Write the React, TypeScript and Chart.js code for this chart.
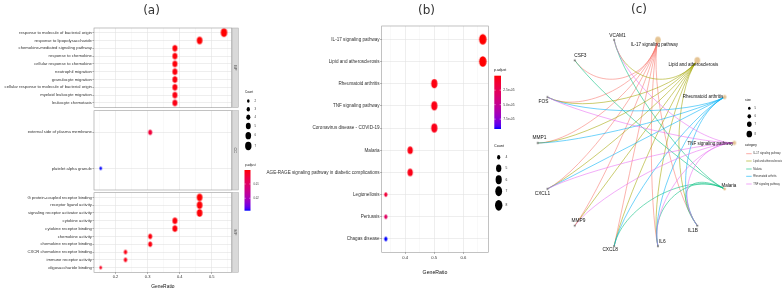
import React, { useEffect, useRef } from "react";
import { Chart, registerables } from "chart.js";
Chart.register(...registerables);

const W = 784;
const H = 290;
const FONT = "'Liberation Sans', Arial, sans-serif";

// ---------------- (a) GO enrichment ----------------
const bpTerms = [
  "response to molecule of bacterial origin",
  "response to lipopolysaccharide",
  "chemokine-mediated signaling pathway",
  "response to chemokine",
  "cellular response to chemokine",
  "neutrophil migration",
  "granulocyte migration",
  "cellular response to molecule of bacterial origin",
  "myeloid leukocyte migration",
  "leukocyte chemotaxis",
];
const bpGeneRatio = [0.538, 0.462, 0.385, 0.385, 0.385, 0.385, 0.385, 0.385, 0.385, 0.385];
const bpCount = [7, 6, 5, 5, 5, 5, 5, 5, 5, 5];
const bpPAdjust = [0.0002, 0.0004, 0.0006, 0.0006, 0.0006, 0.0008, 0.0008, 0.0009, 0.0011, 0.0013];

const ccTerms = ["external side of plasma membrane", "platelet alpha granule"];
const ccGeneRatio = [0.308, 0.154];
const ccCount = [4, 2];
const ccPAdjust = [0.0048, 0.0287];

const mfTerms = [
  "G protein-coupled receptor binding",
  "receptor ligand activity",
  "signaling receptor activator activity",
  "cytokine activity",
  "cytokine receptor binding",
  "chemokine activity",
  "chemokine receptor binding",
  "CXCR chemokine receptor binding",
  "immune receptor activity",
  "oligosaccharide binding",
];
const mfGeneRatio = [0.462, 0.462, 0.462, 0.385, 0.385, 0.308, 0.308, 0.231, 0.231, 0.154];
const mfCount = [6, 6, 6, 5, 5, 4, 4, 3, 3, 2];
const mfPAdjust = [0.0003, 0.0005, 0.0005, 0.0007, 0.0007, 0.0009, 0.001, 0.0012, 0.0014, 0.0021];

const aXMajor = [0.2, 0.3, 0.4, 0.5];
const aXMinor = [0.15, 0.25, 0.35, 0.45, 0.55];
const aCountLegend = [2, 3, 4, 5, 6, 7];
const aPAdjustLegend = [0.01, 0.02];
const aPAdjustLegendLabels = ["0.01", "0.02"];

// ---------------- (b) KEGG enrichment ----------------
const keggTerms = [
  "IL-17 signaling pathway",
  "Lipid and atherosclerosis",
  "Rheumatoid arthritis",
  "TNF signaling pathway",
  "Coronavirus disease - COVID-19",
  "Malaria",
  "AGE-RAGE signaling pathway in diabetic complications",
  "Legionellosis",
  "Pertussis",
  "Chagas disease",
];
const keggGeneRatio = [0.667, 0.667, 0.5, 0.5, 0.5, 0.417, 0.417, 0.333, 0.333, 0.333];
const keggCount = [8, 8, 6, 6, 6, 5, 5, 4, 4, 4];
const keggPAdjust = [1e-7, 2e-7, 2.5e-6, 3.5e-6, 4.5e-6, 3e-6, 4e-6, 1.4e-5, 3e-5, 9.2e-5];
const bXMajor = [0.4, 0.5, 0.6];
const bXMinor = [0.35, 0.45, 0.55, 0.65];
const bCountLegend = [4, 5, 6, 7, 8];
const bPAdjustLegend = [2.5e-5, 5.0e-5, 7.5e-5];
const bPAdjustLegendLabels = ["2.5e-05", "5.0e-05", "7.5e-05"];

// ---------------- (c) gene-concept network ----------------
const cNodeOrder = [
  "TNF signaling pathway",
  "Rheumatoid arthritis",
  "Lipid and atherosclerosis",
  "IL-17 signaling pathway",
  "VCAM1",
  "CSF3",
  "FOS",
  "MMP1",
  "CXCL1",
  "MMP9",
  "CXCL8",
  "IL6",
  "IL1B",
  "Malaria",
];
const cCategories = [
  "IL-17 signaling pathway",
  "Lipid and atherosclerosis",
  "Malaria",
  "Rheumatoid arthritis",
  "TNF signaling pathway",
];
const il17Genes = ["CSF3", "FOS", "MMP1", "CXCL1", "MMP9", "CXCL8", "IL6", "IL1B"];
const lipidGenes = ["VCAM1", "FOS", "MMP1", "CXCL1", "MMP9", "CXCL8", "IL6", "IL1B"];
const malariaGenes = ["VCAM1", "CSF3", "CXCL8", "IL6", "IL1B"];
const raGenes = ["FOS", "MMP1", "CXCL1", "CXCL8", "IL6", "IL1B"];
const tnfGenes = ["VCAM1", "FOS", "CXCL1", "MMP9", "IL6", "IL1B"];
const cSizeLegend = [5, 6, 7, 8];

// ---------------- styles ----------------
const catColors = ["#F8766D", "#A3A500", "#00BF7D", "#00B0F6", "#E76BF3"];
const cLabelNudge: [number, number][] = [
  [-24, 0.6], [-21.6, 0], [-4, 4.7], [-3.4, 5.3], [3.4, -4], [5.7, -5], [-4, 4.4],
  [1.7, -5], [-5, 4.4], [3.7, -5.4], [-4, 3.6], [4.4, -5], [-4.4, 5.4], [4.3, -2.7],
];
const AXIS_TEXT = "#333333";

// ---------------- colour helpers (CIELAB ramp red -> blue) ----------------
function toLin(c: number) {
  c /= 255;
  return c <= 0.04045 ? c / 12.92 : Math.pow((c + 0.055) / 1.055, 2.4);
}
function fromLin(c: number) {
  const v = c <= 0.0031308 ? 12.92 * c : 1.055 * Math.pow(c, 1 / 2.4) - 0.055;
  return Math.round(Math.max(0, Math.min(1, v)) * 255);
}
function rgb2lab(rgb: number[]) {
  const R = toLin(rgb[0]), G = toLin(rgb[1]), B = toLin(rgb[2]);
  const X = (0.4124 * R + 0.3576 * G + 0.1805 * B) / 0.95047;
  const Y = 0.2126 * R + 0.7152 * G + 0.0722 * B;
  const Z = (0.0193 * R + 0.1192 * G + 0.9505 * B) / 1.08883;
  const f = (t: number) => (t > 0.008856 ? Math.cbrt(t) : 7.787 * t + 16 / 116);
  return [116 * f(Y) - 16, 500 * (f(X) - f(Y)), 200 * (f(Y) - f(Z))];
}
function lab2rgb(lab: number[]) {
  const fy = (lab[0] + 16) / 116;
  const fx = fy + lab[1] / 500;
  const fz = fy - lab[2] / 200;
  const inv = (t: number) => (t * t * t > 0.008856 ? t * t * t : (t - 16 / 116) / 7.787);
  const X = inv(fx) * 0.95047, Y = inv(fy), Z = inv(fz) * 1.08883;
  const R = 3.2406 * X - 1.5372 * Y - 0.4986 * Z;
  const G = -0.9689 * X + 1.8758 * Y + 0.0415 * Z;
  const B = 0.0557 * X - 0.204 * Y + 1.057 * Z;
  return [fromLin(R), fromLin(G), fromLin(B)];
}
const LAB_LOW = rgb2lab([255, 0, 0]);
const LAB_HIGH = rgb2lab([0, 0, 255]);
function ramp(t: number) {
  const u = Math.max(0, Math.min(1, t));
  const lab = LAB_LOW.map((v, i) => v + (LAB_HIGH[i] - v) * u);
  const c = lab2rgb(lab);
  return `rgb(${c[0]},${c[1]},${c[2]})`;
}

function ellipseCanvas(rx: number, ry: number, color: string) {
  const w = Math.ceil(rx * 2) + 2;
  const h = Math.ceil(ry * 2) + 2;
  const c = document.createElement("canvas");
  c.width = w;
  c.height = h;
  const g = c.getContext("2d")!;
  g.fillStyle = color;
  g.beginPath();
  g.ellipse(w / 2, h / 2, rx, ry, 0, 0, Math.PI * 2);
  g.fill();
  return c;
}

function txt(ctx: CanvasRenderingContext2D, s: string, x: number, y: number, size: number, color = "#111", align: CanvasTextAlign = "left") {
  ctx.save();
  ctx.font = `${size}px ${FONT}`;
  ctx.fillStyle = color;
  ctx.textAlign = align;
  ctx.textBaseline = "middle";
  ctx.fillText(s, x, y);
  ctx.restore();
}

// size mappings
const aRx = (c: number) => 1.3 + 0.38 * (c - 2);
const aRy = (c: number) => aRx(c) * 1.3;
const bRx = (c: number) => 1.6 + 2.1 * Math.sqrt((c - 4) / 4);
const bRy = (c: number) => bRx(c) * 1.45;
const cRx = (c: number) => 1.3 + 0.5 * (c - 5);
const cRy = (c: number) => cRx(c) * 1.2;

const aAll = [...bpPAdjust, ...ccPAdjust, ...mfPAdjust];
const aPMin = Math.min(...aAll);
const aPMax = Math.max(...aAll);
const aColor = (p: number) => ramp((p - aPMin) / (aPMax - aPMin));
const bPMin = Math.min(...keggPAdjust);
const bPMax = Math.max(...keggPAdjust);
const bColor = (p: number) => ramp((p - bPMin) / (bPMax - bPMin));

type Area = { l: number; t: number; r: number; b: number };
interface DotSpec {
  terms: string[];
  ratio: number[];
  count: number[];
  padj: number[];
  area: Area;
  xMin: number;
  xMax: number;
  xMajor: number[];
  xMinor: number[];
  showX: boolean;
  labelFont: number;
  tickFont: number;
  titleFont: number;
  titlePadBottom: number;
  xTickPad: number;
  rx: (c: number) => number;
  ry: (c: number) => number;
  color: (p: number) => string;
  strip?: string;
  extra?: (ctx: CanvasRenderingContext2D) => void;
}

const borderPlugin = {
  id: "panelBorder",
  afterDatasetsDraw(chart: any) {
    const { ctx, chartArea: a } = chart;
    ctx.save();
    ctx.strokeStyle = "#9a9a9a";
    ctx.lineWidth = 0.6;
    ctx.strokeRect(a.left, a.top, a.right - a.left, a.bottom - a.top);
    ctx.restore();
  },
};

function dotChart(canvas: HTMLCanvasElement, s: DotSpec) {
  const imgs = s.count.map((c, i) => ellipseCanvas(s.rx(c), s.ry(c), s.color(s.padj[i])));
  const isMajor = (v: number) => s.xMajor.some((m) => Math.abs(m - v) < 1e-9);
  const xTicks = [...s.xMajor, ...s.xMinor].sort((p, q) => p - q);
  const plugins: any[] = [borderPlugin];
  plugins.push({
    id: "extras",
    afterDraw(chart: any) {
      const { ctx, chartArea: a } = chart;
      if (s.strip) {
        ctx.save();
        ctx.fillStyle = "#D9D9D9";
        ctx.fillRect(a.right + 0.4, a.top, 6.3, a.bottom - a.top);
        ctx.strokeStyle = "#a8a8a8";
        ctx.lineWidth = 0.5;
        ctx.strokeRect(a.right + 0.4, a.top, 6.3, a.bottom - a.top);
        ctx.translate(a.right + 3.6, (a.top + a.bottom) / 2);
        ctx.rotate(Math.PI / 2);
        ctx.font = `4px ${FONT}`;
        ctx.fillStyle = "#555";
        ctx.textAlign = "center";
        ctx.textBaseline = "middle";
        ctx.fillText(s.strip, 0, 0);
        ctx.restore();
      }
      if (s.extra) s.extra(ctx);
    },
  });
  return new Chart(canvas, {
    type: "scatter",
    data: {
      datasets: [
        {
          data: s.terms.map((_, i) => ({ x: s.ratio[i], y: i })),
          pointStyle: (ctx: any) => imgs[ctx.dataIndex ?? 0],
          pointRadius: (ctx: any) => s.rx(s.count[ctx.dataIndex ?? 0]),
          borderWidth: 0,
        } as any,
      ],
    },
    options: {
      animation: false,
      responsive: false,
      events: [],
      layout: { padding: { left: 0, top: s.area.t, right: W - s.area.r, bottom: 0 } },
      plugins: { legend: { display: false }, tooltip: { enabled: false } },
      scales: {
        x: {
          type: "linear",
          min: s.xMin,
          max: s.xMax,
          afterBuildTicks: (sc: any) => {
            sc.ticks = xTicks.map((v) => ({ value: v }));
          },
          afterFit: (sc: any) => {
            sc.height = H - s.area.b;
          },
          border: { display: false },
          grid: {
            color: (c: any) => (c.tick && isMajor(c.tick.value) ? "#e3e3e3" : "#f0f0f0"),
            lineWidth: (c: any) => (c.tick && isMajor(c.tick.value) ? 0.6 : 0.4),
            drawTicks: s.showX,
            tickLength: 1.5,
            tickColor: (c: any) => (c.tick && isMajor(c.tick.value) ? "#555" : "rgba(0,0,0,0)"),
            tickWidth: 0.5,
          },
          ticks: {
            display: s.showX,
            autoSkip: false,
            maxRotation: 0,
            padding: s.xTickPad,
            color: AXIS_TEXT,
            font: { size: s.tickFont, family: FONT },
            callback: (v: any) => (isMajor(Number(v)) ? Number(v).toFixed(1) : ""),
          },
          title: {
            display: s.showX,
            text: "GeneRatio",
            color: "#111",
            font: { size: s.titleFont, family: FONT },
            padding: { top: 0, bottom: s.titlePadBottom },
          },
        },
        y: {
          type: "linear",
          min: -0.6,
          max: s.terms.length - 0.4,
          reverse: true,
          afterBuildTicks: (sc: any) => {
            sc.ticks = s.terms.map((_, i) => ({ value: i }));
          },
          afterFit: (sc: any) => {
            sc.width = s.area.l;
          },
          border: { display: false },
          grid: {
            color: "#e3e3e3",
            lineWidth: 0.6,
            tickLength: 1.5,
            tickColor: "#555",
            tickWidth: 0.5,
          },
          ticks: {
            autoSkip: false,
            padding: 0.6,
            color: AXIS_TEXT,
            font: { size: s.labelFont, family: FONT },
            callback: (v: any) => s.terms[Math.round(Number(v))] ?? "",
          },
        },
      },
    } as any,
    plugins,
  });
}

// ---------------- legends ----------------
function colorBar(ctx: CanvasRenderingContext2D, x0: number, y0: number, x1: number, y1: number, vals: number[], labels: string[], min: number, max: number, labelX: number, font: number) {
  const g = ctx.createLinearGradient(0, y0, 0, y1);
  for (let i = 0; i <= 20; i++) g.addColorStop(i / 20, ramp(i / 20));
  ctx.save();
  ctx.fillStyle = g;
  ctx.fillRect(x0, y0, x1 - x0, y1 - y0);
  ctx.strokeStyle = "#ffffff";
  ctx.lineWidth = 0.5;
  vals.forEach((v, i) => {
    const y = y0 + ((v - min) / (max - min)) * (y1 - y0);
    const tw = (x1 - x0) / 5;
    ctx.beginPath();
    ctx.moveTo(x0, y);
    ctx.lineTo(x0 + tw, y);
    ctx.moveTo(x1 - tw, y);
    ctx.lineTo(x1, y);
    ctx.stroke();
    txt(ctx, labels[i], labelX, y, font, AXIS_TEXT);
  });
  ctx.restore();
}
function blackDot(ctx: CanvasRenderingContext2D, x: number, y: number, rx: number, ry: number) {
  ctx.save();
  ctx.fillStyle = "#000";
  ctx.beginPath();
  ctx.ellipse(x, y, rx, ry, 0, 0, Math.PI * 2);
  ctx.fill();
  ctx.restore();
}

const aLegendY = [101, 109.3, 117.3, 126, 135.7, 146];
function drawALegend(ctx: CanvasRenderingContext2D) {
  txt(ctx, "Count", 245, 91.7, 3);
  aCountLegend.forEach((c, i) => {
    blackDot(ctx, 248.3, aLegendY[i], aRx(c), aRy(c));
    txt(ctx, String(c), 254.5, aLegendY[i], 2.8, AXIS_TEXT);
  });
  txt(ctx, "p.adjust", 245, 165, 3);
  colorBar(ctx, 244.5, 170, 250.5, 210.7, aPAdjustLegend, aPAdjustLegendLabels, aPMin, aPMax, 253.5, 2.7);
}

const bLegendY = [157.3, 168.3, 179.7, 191.3, 205.3];
function drawBLegend(ctx: CanvasRenderingContext2D) {
  txt(ctx, "p.adjust", 494, 70, 3.5);
  colorBar(ctx, 494.3, 75.7, 501, 129, bPAdjustLegend, bPAdjustLegendLabels, bPMin, bPMax, 503.3, 3.3);
  txt(ctx, "Count", 494, 146, 3.7);
  bCountLegend.forEach((c, i) => {
    blackDot(ctx, 498.7, bLegendY[i], bRx(c), bRy(c));
    txt(ctx, String(c), 505.5, bLegendY[i], 3.3, AXIS_TEXT);
  });
}

const cSizeY = [108.3, 116.3, 124.3, 134];
const cCatY = [153.7, 161, 169, 176.3, 184];
function drawCLegend(ctx: CanvasRenderingContext2D) {
  txt(ctx, "size", 745, 100, 3.3);
  cSizeLegend.forEach((c, i) => {
    blackDot(ctx, 749.3, cSizeY[i], cRx(c), cRy(c));
    txt(ctx, String(c), 754.5, cSizeY[i], 2.8, AXIS_TEXT);
  });
  txt(ctx, "category", 745, 144.7, 3.1);
  cCategories.forEach((c, i) => {
    ctx.save();
    ctx.strokeStyle = catColors[i];
    ctx.lineWidth = 0.6;
    ctx.beginPath();
    ctx.moveTo(746.2, cCatY[i]);
    ctx.lineTo(751.7, cCatY[i]);
    ctx.stroke();
    ctx.restore();
    txt(ctx, c, 753.3, cCatY[i], 2.6, AXIS_TEXT);
  });
}

// ---------------- (c) chart ----------------
function networkChart(canvas: HTMLCanvasElement) {
  const area: Area = { l: 518, t: 16, r: 754, b: 270 };
  const geneSets = [il17Genes, lipidGenes, malariaGenes, raGenes, tnfGenes];
  const n = cNodeOrder.length;
  const pos = cNodeOrder.map((_, i) => ({ x: Math.cos((2 * Math.PI * i) / n), y: Math.sin((2 * Math.PI * i) / n) }));
  const idx = (name: string) => cNodeOrder.indexOf(name);
  const catIndex = (name: string) => cCategories.indexOf(name);
  const edges: { from: number; to: number; color: string }[] = [];
  cCategories.forEach((cat, ci) => {
    geneSets[ci].forEach((g) => edges.push({ from: idx(cat), to: idx(g), color: catColors[ci] }));
  });
  const nodeCount = cNodeOrder.map((name) => {
    const ci = catIndex(name);
    return ci >= 0 ? geneSets[ci].length : 0;
  });
  const imgs = cNodeOrder.map((name, i) =>
    nodeCount[i] > 0 ? ellipseCanvas(cRx(nodeCount[i]), cRy(nodeCount[i]), "#E5C494") : ellipseCanvas(1.0, 1.1, "#6e6e6e")
  );
  const strength = 0.4;
  const edgePlugin = {
    id: "edges",
    beforeDatasetsDraw(chart: any) {
      const { ctx } = chart;
      const xs = chart.scales.x;
      const ys = chart.scales.y;
      const P = (vx: number, vy: number) => [xs.getPixelForValue(vx), ys.getPixelForValue(vy)];
      ctx.save();
      ctx.lineWidth = 0.7;
      ctx.globalAlpha = 0.8;
      edges.forEach((e) => {
        const a = pos[e.from];
        const b = pos[e.to];
        const p0 = P(a.x, a.y);
        const c1 = P(a.x * (1 - strength), a.y * (1 - strength));
        const c2 = P(b.x * (1 - strength), b.y * (1 - strength));
        const p3 = P(b.x, b.y);
        ctx.strokeStyle = e.color;
        ctx.beginPath();
        ctx.moveTo(p0[0], p0[1]);
        ctx.bezierCurveTo(c1[0], c1[1], c2[0], c2[1], p3[0], p3[1]);
        ctx.stroke();
      });
      ctx.restore();
    },
  };
  const labelPlugin = {
    id: "nodeLabels",
    afterDatasetsDraw(chart: any) {
      const { ctx } = chart;
      const xs = chart.scales.x;
      const ys = chart.scales.y;
      cNodeOrder.forEach((name, i) => {
        const x = xs.getPixelForValue(pos[i].x) + cLabelNudge[i][0];
        const y = ys.getPixelForValue(pos[i].y) + cLabelNudge[i][1];
        txt(ctx, name, x, y, nodeCount[i] > 0 ? 4.5 : 4.8, "#111", "center");
      });
      drawCLegend(ctx);
    },
  };
  return new Chart(canvas, {
    type: "scatter",
    data: {
      datasets: [
        {
          data: pos.map((p) => ({ x: p.x, y: p.y })),
          pointStyle: (ctx: any) => imgs[ctx.dataIndex ?? 0],
          pointRadius: 2,
          borderWidth: 0,
          clip: false,
        } as any,
      ],
    },
    options: {
      animation: false,
      responsive: false,
      events: [],
      layout: { padding: { left: area.l, top: area.t, right: W - area.r, bottom: H - area.b } },
      plugins: { legend: { display: false }, tooltip: { enabled: false } },
      scales: {
        x: { type: "linear", min: -1.2, max: 1.2, display: false },
        y: { type: "linear", min: -1.2, max: 1.2, display: false },
      },
    } as any,
    plugins: [edgePlugin, labelPlugin],
  });
}

// ---------------- components ----------------
function ChartCanvas({ make }: { make: (c: HTMLCanvasElement) => Chart }) {
  const ref = useRef<HTMLCanvasElement>(null);
  useEffect(() => {
    const ch = make(ref.current!);
    return () => ch.destroy();
  }, []);
  return (
    <canvas
      ref={ref}
      width={W}
      height={H}
      style={{ position: "absolute", left: 0, top: 0, width: W, height: H }}
    />
  );
}

const aLeft = 94;
const aRight = 231.7;
const aXMin = 0.133;
const aXMax = 0.562;

const makers: ((c: HTMLCanvasElement) => Chart)[] = [
  (c) =>
    dotChart(c, {
      terms: bpTerms, ratio: bpGeneRatio, count: bpCount, padj: bpPAdjust,
      area: { l: aLeft, t: 28, r: aRight, b: 107.6 }, xMin: aXMin, xMax: aXMax,
      xMajor: aXMajor, xMinor: aXMinor, showX: false, labelFont: 4.2, tickFont: 4,
      titleFont: 4.9, titlePadBottom: 0, xTickPad: 0.5, rx: aRx, ry: aRy, color: aColor, strip: "BP",
    }),
  (c) =>
    dotChart(c, {
      terms: ccTerms, ratio: ccGeneRatio, count: ccCount, padj: ccPAdjust,
      area: { l: aLeft, t: 110.7, r: aRight, b: 190 }, xMin: aXMin, xMax: aXMax,
      xMajor: aXMajor, xMinor: aXMinor, showX: false, labelFont: 4.2, tickFont: 4,
      titleFont: 4.9, titlePadBottom: 0, xTickPad: 0.5, rx: aRx, ry: aRy, color: aColor, strip: "CC",
    }),
  (c) =>
    dotChart(c, {
      terms: mfTerms, ratio: mfGeneRatio, count: mfCount, padj: mfPAdjust,
      area: { l: aLeft, t: 192.7, r: aRight, b: 272.3 }, xMin: aXMin, xMax: aXMax,
      xMajor: aXMajor, xMinor: aXMinor, showX: true, labelFont: 4.2, tickFont: 4,
      titleFont: 4.9, titlePadBottom: 0, xTickPad: 0.5, rx: aRx, ry: aRy, color: aColor, strip: "MF",
      extra: drawALegend,
    }),
  (c) =>
    dotChart(c, {
      terms: keggTerms, ratio: keggGeneRatio, count: keggCount, padj: keggPAdjust,
      area: { l: 381.7, t: 26, r: 488.3, b: 252.3 }, xMin: 0.319, xMax: 0.686,
      xMajor: bXMajor, xMinor: bXMinor, showX: true, labelFont: 4.6, tickFont: 4.2,
      titleFont: 5.2, titlePadBottom: 14.2, xTickPad: 1.8, rx: bRx, ry: bRy, color: bColor,
      extra: drawBLegend,
    }),
  (c) => networkChart(c),
];

const titleStyle = (cx: number, cy: number): React.CSSProperties => ({
  position: "absolute",
  left: cx,
  top: cy,
  transform: "translate(-50%, -50%)",
  fontFamily: "'DejaVu Sans', sans-serif",
  fontSize: 12,
  lineHeight: 1,
  color: "#333",
  whiteSpace: "nowrap",
});

export default function App() {
  return (
    <div style={{ position: "absolute", left: 0, top: 0, width: W, height: H, background: "#fff", overflow: "hidden" }}>
      {makers.map((m, i) => (
        <ChartCanvas key={i} make={m} />
      ))}
      <div style={titleStyle(151.5, 10)}>(a)</div>
      <div style={titleStyle(426.5, 10)}>(b)</div>
      <div style={titleStyle(639, 9)}>(c)</div>
    </div>
  );
}
